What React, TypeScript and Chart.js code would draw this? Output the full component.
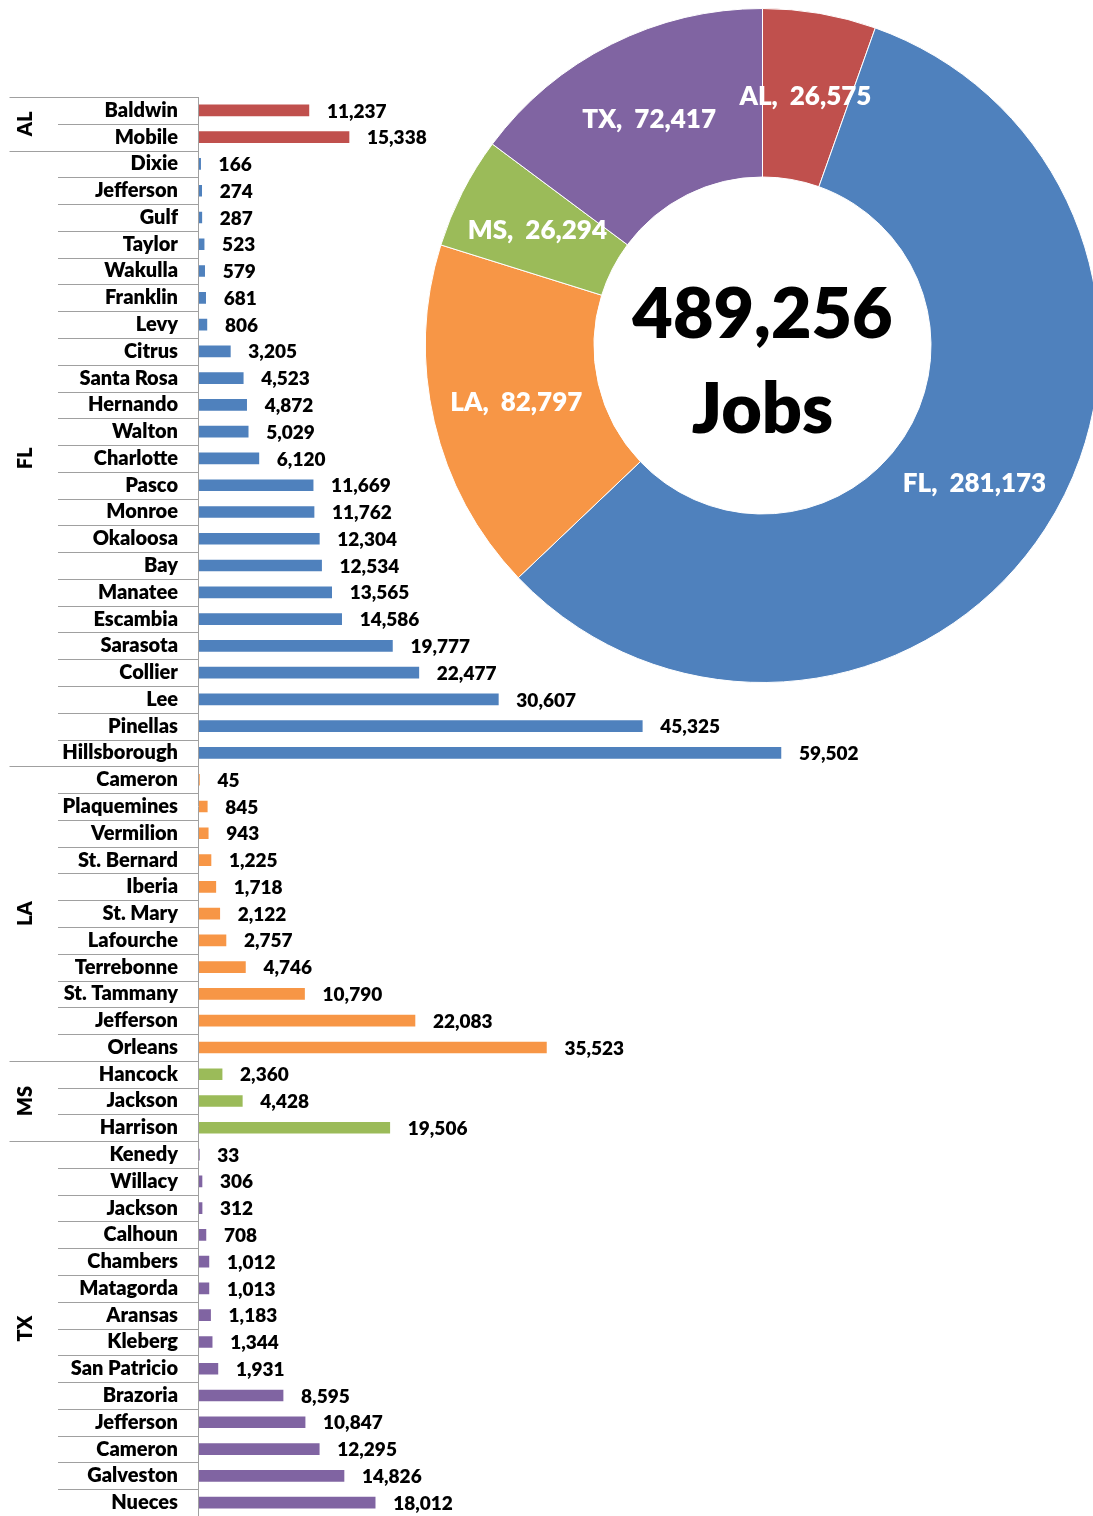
import React, { useEffect, useRef } from 'react';
import { Chart, registerables } from 'chart.js';

Chart.register(...registerables);

// ---------- Data ----------
const states = ['AL', 'FL', 'LA', 'MS', 'TX'];
const stateTotals = [26575, 281173, 82797, 26294, 72417];
const stateColors = ['#C0504D', '#4F81BD', '#F79646', '#9BBB59', '#8064A2'];
const totalJobsLabel = '489,256';
const centerWord = 'Jobs';

const alCounties = ['Baldwin', 'Mobile'];
const alJobs = [11237, 15338];

const flCounties = [
  'Dixie', 'Jefferson', 'Gulf', 'Taylor', 'Wakulla', 'Franklin', 'Levy', 'Citrus',
  'Santa Rosa', 'Hernando', 'Walton', 'Charlotte', 'Pasco', 'Monroe', 'Okaloosa', 'Bay',
  'Manatee', 'Escambia', 'Sarasota', 'Collier', 'Lee', 'Pinellas', 'Hillsborough',
];
const flJobs = [
  166, 274, 287, 523, 579, 681, 806, 3205, 4523, 4872, 5029, 6120, 11669, 11762, 12304,
  12534, 13565, 14586, 19777, 22477, 30607, 45325, 59502,
];

const laCounties = [
  'Cameron', 'Plaquemines', 'Vermilion', 'St. Bernard', 'Iberia', 'St. Mary', 'Lafourche',
  'Terrebonne', 'St. Tammany', 'Jefferson', 'Orleans',
];
const laJobs = [45, 845, 943, 1225, 1718, 2122, 2757, 4746, 10790, 22083, 35523];

const msCounties = ['Hancock', 'Jackson', 'Harrison'];
const msJobs = [2360, 4428, 19506];

const txCounties = [
  'Kenedy', 'Willacy', 'Jackson', 'Calhoun', 'Chambers', 'Matagorda', 'Aransas', 'Kleberg',
  'San Patricio', 'Brazoria', 'Jefferson', 'Cameron', 'Galveston', 'Nueces',
];
const txJobs = [33, 306, 312, 708, 1012, 1013, 1183, 1344, 1931, 8595, 10847, 12295, 14826, 18012];

const groupCounties = [alCounties, flCounties, laCounties, msCounties, txCounties];
const groupJobs = [alJobs, flJobs, laJobs, msJobs, txJobs];

const FONT = 'Lato, "Open Sans", sans-serif';
const WEIGHT = '800';
const GRID_COLOR = '#A0A0A0';

const fmt = (v: number) => v.toLocaleString('en-US');

export default function App() {
  const barRef = useRef<HTMLCanvasElement | null>(null);
  const pieRef = useRef<HTMLCanvasElement | null>(null);

  useEffect(() => {
    const labels: string[] = [];
    const values: number[] = [];
    const colors: string[] = [];
    const groupStarts: number[] = [];
    groupCounties.forEach((names, g) => {
      groupStarts.push(labels.length);
      names.forEach((n, i) => {
        labels.push(n);
        values.push(groupJobs[g][i]);
        colors.push(stateColors[g]);
      });
    });
    const N = labels.length;
    groupStarts.push(N);

    const barDecor = {
      id: 'barDecor',
      afterDatasetsDraw(chart: any) {
        const ctx = chart.ctx as CanvasRenderingContext2D;
        const y = chart.scales.y;
        const area = chart.chartArea;
        const boundary = (i: number) => {
          if (i <= 0) return y.top;
          if (i >= N) return y.bottom;
          return (y.getPixelForTick(i - 1) + y.getPixelForTick(i)) / 2;
        };
        ctx.save();
        // separators
        ctx.strokeStyle = GRID_COLOR;
        ctx.lineWidth = 1;
        for (let i = 0; i <= N; i++) {
          const isGroup = groupStarts.includes(i);
          const yy = Math.round(boundary(i)) + 0.5;
          ctx.beginPath();
          ctx.moveTo(isGroup ? 9.5 : 58, yy);
          ctx.lineTo(area.left, yy);
          ctx.stroke();
        }
        // axis line
        ctx.beginPath();
        ctx.moveTo(area.left - 0.5, y.top);
        ctx.lineTo(area.left - 0.5, y.bottom);
        ctx.stroke();
        // group labels
        ctx.fillStyle = '#000';
        ctx.font = `${WEIGHT} 20px ${FONT}`;
        ctx.textAlign = 'center';
        ctx.textBaseline = 'middle';
        for (let g = 0; g < states.length; g++) {
          const cy = (boundary(groupStarts[g]) + boundary(groupStarts[g + 1])) / 2;
          ctx.save();
          ctx.translate(26, cy);
          ctx.rotate(-Math.PI / 2);
          ctx.fillText(states[g], 0, 0);
          ctx.restore();
        }
        // value labels
        const meta = chart.getDatasetMeta(0);
        ctx.font = `${WEIGHT} 19px ${FONT}`;
        ctx.textAlign = 'left';
        meta.data.forEach((bar: any, i: number) => {
          ctx.fillText(fmt(values[i]), bar.x + 18, bar.y + 1);
        });
        ctx.restore();
      },
    };

    const barChart = new Chart(barRef.current as HTMLCanvasElement, {
      type: 'bar',
      data: {
        labels,
        datasets: [
          {
            data: values,
            backgroundColor: colors,
            borderWidth: 0,
            barThickness: 11,
          },
        ],
      },
      options: {
        indexAxis: 'y',
        responsive: false,
        animation: false,
        layout: { padding: { top: 97, right: 209.4, bottom: 0, left: 0 } },
        plugins: { legend: { display: false }, tooltip: { enabled: false } },
        scales: {
          x: { display: false, min: 0, max: 70000 },
          y: {
            afterFit: (s: any) => {
              s.width = 199;
              s.paddingTop = 0;
              s.paddingBottom = 0;
            },
            grid: { display: false, drawTicks: false },
            border: { display: false },
            ticks: {
              autoSkip: false,
              color: '#000',
              padding: 21,
              font: { family: FONT, weight: WEIGHT, size: 20 },
            },
          },
        },
      },
      plugins: [barDecor],
    } as any);

    const pieDecor = {
      id: 'pieDecor',
      afterDatasetsDraw(chart: any) {
        const ctx = chart.ctx as CanvasRenderingContext2D;
        const meta = chart.getDatasetMeta(0);
        ctx.save();
        ctx.fillStyle = '#fff';
        ctx.font = `${WEIGHT} 26px ${FONT}`;
        ctx.textAlign = 'center';
        ctx.textBaseline = 'middle';
        let cx = 0;
        let cy = 0;
        meta.data.forEach((arc: any, i: number) => {
          const p = arc.getProps(['x', 'y', 'startAngle', 'endAngle', 'innerRadius', 'outerRadius']);
          cx = p.x;
          cy = p.y;
          const mid = (p.startAngle + p.endAngle) / 2;
          const r = (p.innerRadius + p.outerRadius) / 2;
          ctx.fillText(`${states[i]},  ${fmt(stateTotals[i])}`, p.x + Math.cos(mid) * r, p.y + Math.sin(mid) * r);
        });
        ctx.fillStyle = '#000';
        ctx.font = `${WEIGHT} 70px ${FONT}`;
        ctx.textBaseline = 'alphabetic';
        ctx.fillText(totalJobsLabel, cx, cy - 7.5);
        ctx.fillText(centerWord, cx, cy + 87.5);
        ctx.restore();
      },
    };

    const pieChart = new Chart(pieRef.current as HTMLCanvasElement, {
      type: 'doughnut',
      data: {
        labels: states,
        datasets: [
          {
            data: stateTotals,
            backgroundColor: stateColors,
            borderColor: '#ffffff',
            borderWidth: 1,
          },
        ],
      },
      options: {
        responsive: false,
        animation: false,
        cutout: '50%',
        layout: { padding: 0 },
        plugins: { legend: { display: false }, tooltip: { enabled: false } },
      },
      plugins: [pieDecor],
    } as any);

    return () => {
      barChart.destroy();
      pieChart.destroy();
    };
  }, []);

  return (
    <div
      style={{
        position: 'absolute',
        left: 0,
        top: 0,
        width: 1093,
        height: 1516,
        overflow: 'hidden',
        background: '#fff',
      }}
    >
      <canvas
        ref={barRef}
        width={1093}
        height={1516}
        style={{ position: 'absolute', left: 0, top: 0, display: 'block' }}
      />
      <canvas
        ref={pieRef}
        width={675}
        height={675}
        style={{ position: 'absolute', left: 425, top: 8, display: 'block' }}
      />
    </div>
  );
}
